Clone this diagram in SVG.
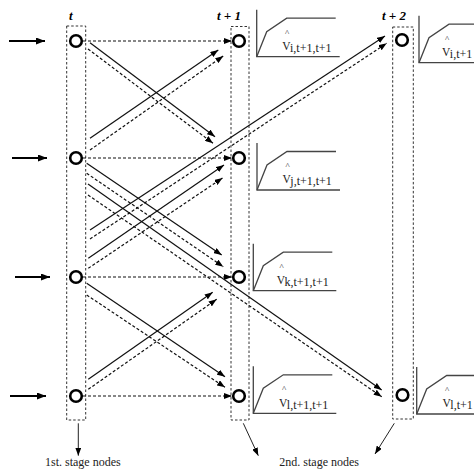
<svg xmlns="http://www.w3.org/2000/svg" xmlns:xlink="http://www.w3.org/1999/xlink" width="474" height="474" viewBox="0 0 474 474">
<style>
.box{fill:none;stroke:#333;stroke-width:1;stroke-dasharray:2.5,2}
.node{fill:#fff;stroke:#000;stroke-width:2.6}
.sol{fill:none;stroke:#111;stroke-width:1.2;marker-end:url(#ah)}
.dsh{fill:none;stroke:#111;stroke-width:1.2;stroke-dasharray:3,2;marker-end:url(#ah)}
.inp{fill:none;stroke:#000;stroke-width:2;marker-end:url(#ahb)}
.thin{fill:none;stroke:#222;stroke-width:1;marker-end:url(#ah)}
.ch{fill:none;stroke:#444;stroke-width:1.3}
.hd{font-family:"Liberation Serif",serif;font-weight:bold;font-style:italic;font-size:13px;fill:#000}
.lb{font-family:"Liberation Serif",serif;font-size:12px;fill:#222}
.v{font-family:"Liberation Serif",serif;font-size:11.5px;fill:#222}
.hat{font-family:"Liberation Serif",serif;font-size:9px;fill:#222;text-anchor:middle}
</style>
<defs>
<marker id="ah" viewBox="0 0 8 6" refX="8" refY="3" markerWidth="8" markerHeight="6" markerUnits="userSpaceOnUse" orient="auto"><path d="M0,0 L8,3 L0,6 z" fill="#000"/></marker>
<marker id="ahb" viewBox="0 0 9 7" refX="9" refY="3.5" markerWidth="9" markerHeight="7" markerUnits="userSpaceOnUse" orient="auto"><path d="M0,0 L9,3.5 L0,7 z" fill="#000"/></marker>
<g id="chart"><path class="ch" d="M0,-47 V0 H83"/><path class="ch" d="M0,0 L10,-25 L30,-38.5 L79,-38.5"/></g>
<g id="chart3"><path class="ch" d="M0,-47 V0 H70"/><path class="ch" d="M0,0 L10,-25 L30,-38.5 L70,-38.5"/></g>
</defs>
<rect width="474" height="474" fill="#fff"/>

<g id="headers">
<text class="hd" x="69" y="20">t</text>
<text class="hd" x="217" y="20">t + 1</text>
<text class="hd" x="382" y="20">t + 2</text>
</g>

<g id="stage1">
<rect class="box" x="66.7" y="26" width="19" height="394"/>
</g>
<g id="stage2">
<rect class="box" x="231" y="26.5" width="18" height="393.5"/>
</g>
<g id="stage3">
<rect class="box" x="392.7" y="27" width="20.6" height="392"/>
</g>

<g id="connectors">
<line class="inp" x1="9" y1="41" x2="45" y2="41"/>
<line class="inp" x1="12" y1="158" x2="47" y2="158"/>
<line class="inp" x1="15" y1="277" x2="50" y2="277"/>
<line class="inp" x1="10" y1="396" x2="46" y2="396"/>

<line class="dsh" x1="83" y1="41" x2="232" y2="41"/>
<line class="dsh" x1="83" y1="158" x2="232" y2="158"/>
<line class="dsh" x1="83" y1="277" x2="232" y2="277"/>
<line class="dsh" x1="83" y1="396" x2="232" y2="396"/>

<line class="sol" x1="90" y1="42.7" x2="215" y2="136.7"/>
<line class="dsh" x1="88" y1="49" x2="213" y2="143.3"/>
<line class="sol" x1="90" y1="138.3" x2="218.3" y2="50"/>
<line class="dsh" x1="90" y1="150" x2="223.3" y2="56"/>

<line class="sol" x1="86.7" y1="163.3" x2="221.7" y2="255"/>
<line class="dsh" x1="86.7" y1="173.3" x2="223.3" y2="266.7"/>
<line class="sol" x1="88.3" y1="258.3" x2="224" y2="165"/>
<line class="dsh" x1="88.3" y1="268.3" x2="222.5" y2="178"/>

<line class="sol" x1="86.7" y1="283.3" x2="225" y2="376.7"/>
<line class="dsh" x1="86.7" y1="295" x2="225" y2="387.3"/>
<line class="sol" x1="88.3" y1="379.3" x2="212.7" y2="292.3"/>
<line class="dsh" x1="88.3" y1="389.3" x2="216.7" y2="299.3"/>

<line class="sol" x1="88" y1="184" x2="381.7" y2="390"/>
<line class="dsh" x1="88" y1="195" x2="381.7" y2="396.7"/>
<line class="sol" x1="90" y1="230" x2="385" y2="36"/>
<line class="dsh" x1="90" y1="239" x2="386.7" y2="43.3"/>

<line class="thin" x1="78.3" y1="423.3" x2="78.3" y2="455.7"/>
<line class="thin" x1="243.3" y1="423.3" x2="258.3" y2="455.7"/>
<line class="thin" x1="394.3" y1="423.3" x2="375" y2="454"/>
</g>

<g id="n1_1"><circle class="node" cx="76" cy="41" r="5.8"/></g>
<g id="n1_2"><circle class="node" cx="76" cy="158" r="5.8"/></g>
<g id="n1_3"><circle class="node" cx="76" cy="277" r="5.8"/></g>
<g id="n1_4"><circle class="node" cx="76" cy="396" r="5.8"/></g>
<g id="n2_1"><circle class="node" cx="239" cy="41" r="5.8"/></g>
<g id="n2_2"><circle class="node" cx="239" cy="158" r="5.8"/></g>
<g id="n2_3"><circle class="node" cx="239" cy="277" r="5.8"/></g>
<g id="n2_4"><circle class="node" cx="239" cy="396" r="5.8"/></g>
<g id="n3_1"><circle class="node" cx="402" cy="40" r="5.8"/></g>
<g id="n3_4"><circle class="node" cx="402.5" cy="395" r="5.8"/></g>

<g id="chart2_1">
<use xlink:href="#chart" x="256.7" y="56.7"/>
<text class="hat" x="287" y="36">^</text>
<text class="v" x="282.3" y="50">V</text>
<text class="lb" x="290" y="52">i,t+1,t+1</text>
</g>
<g id="chart2_2">
<use xlink:href="#chart" x="257" y="190"/>
<text class="hat" x="287.5" y="169">^</text>
<text class="v" x="282.5" y="183.3">V</text>
<text class="lb" x="290.3" y="185.3">j,t+1,t+1</text>
</g>
<g id="chart2_3">
<use xlink:href="#chart" x="253.3" y="290.7"/>
<text class="hat" x="281.7" y="269.5">^</text>
<text class="v" x="276.7" y="284">V</text>
<text class="lb" x="284.5" y="286">k,t+1,t+1</text>
</g>
<g id="chart2_4">
<use xlink:href="#chart" x="253.3" y="413.3"/>
<text class="hat" x="284" y="392">^</text>
<text class="v" x="279" y="406.6">V</text>
<text class="lb" x="286.8" y="408.6">l,t+1,t+1</text>
</g>
<g id="chart3_1">
<use xlink:href="#chart3" x="419" y="62.7"/>
<text class="hat" x="447" y="42">^</text>
<text class="v" x="442" y="56">V</text>
<text class="lb" x="449.8" y="58">i,t+1</text>
</g>
<g id="chart3_4">
<use xlink:href="#chart3" x="416.7" y="414"/>
<text class="hat" x="447" y="392.5">^</text>
<text class="v" x="442.5" y="406.7">V</text>
<text class="lb" x="450.3" y="408.7">l,t+1</text>
</g>

<g id="footer">
<text class="lb" x="45" y="466">1st. stage nodes</text>
<text class="lb" x="279.3" y="466">2nd. stage nodes</text>
</g>
</svg>
